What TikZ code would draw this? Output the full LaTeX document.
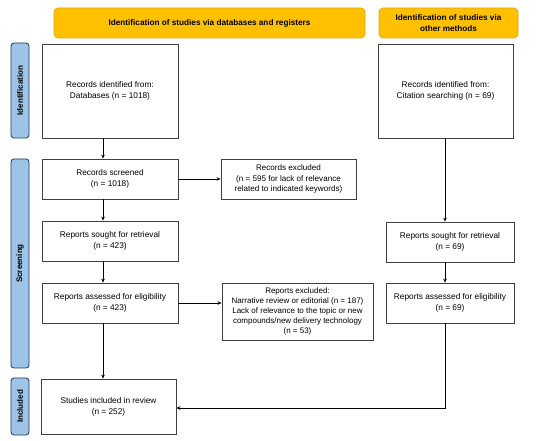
\documentclass[tikz,border=0pt]{standalone}
\usepackage{fontspec}
\setmainfont{Liberation Sans}
\usetikzlibrary{arrows.meta}
\definecolor{hdryellow}{HTML}{FFC000}
\definecolor{hdrborder}{HTML}{E0A800}
\definecolor{sideblue}{HTML}{9DC3E6}
\definecolor{sideborder}{HTML}{1F3864}
\definecolor{boxborder}{HTML}{404040}
\begin{document}
\begin{tikzpicture}[x=1pt,y=-1pt,
  every node/.style={inner sep=1pt},
  fbox/.style={draw=boxborder, line width=0.8pt, fill=white, align=center,
    font=\fontsize{8.3}{10.8}\selectfont},
  hdr/.style={draw=hdrborder, line width=0.6pt, fill=hdryellow, rounded corners=4pt,
    align=center, minimum height=30pt, font=\fontsize{8.2}{10.4}\selectfont\bfseries},
  side/.style={draw=sideborder, line width=0.8pt, fill=sideblue, rounded corners=3pt,
    rotate=90, minimum height=18pt, font=\fontsize{8}{10}\selectfont\bfseries},
  arr/.style={draw=black, line width=0.7pt, -{Stealth[length=4pt,width=3.6pt]}}]
\useasboundingbox (0,0) rectangle (550,441);
\node[hdr, minimum width=311pt] (h1) at (209.5,23) {Identification of studies via databases and registers};
\node[hdr, minimum width=139pt] (h2) at (448.5,23) {Identification of studies via\\other methods};
\node[side, minimum width=95pt] (sId) at (20,90.5) {Identification};
\node[side, minimum width=209pt] (sSc) at (20,263.5) {Screening};
\node[side, minimum width=57pt] (sIn) at (20,406.5) {Included};
\node[fbox, minimum width=136pt, minimum height=94pt] (b1) at (110,91) {Records identified from:\\Databases (n = 1018)};
\node[fbox, minimum width=135pt, minimum height=94pt] (b1r) at (445.5,91) {Records identified from:\\Citation searching (n = 69)};
\node[fbox, minimum width=136pt, minimum height=40pt] (scr) at (110,179) {Records screened\\(n = 1018)};
\node[fbox, minimum width=135pt, minimum height=40pt, font=\fontsize{8.1}{10.2}\selectfont] (exc) at (288.5,179) {Records excluded\\(n = 595 for lack of relevance\\related to indicated keywords)};
\node[fbox, minimum width=136pt, minimum height=40pt] (sou) at (110,241) {Reports sought for retrieval\\(n = 423)};
\node[fbox, minimum width=128pt, minimum height=40pt] (souR) at (450,242) {Reports sought for retrieval\\(n = 69)};
\node[fbox, minimum width=136pt, minimum height=40pt] (ass) at (110,303) {Reports assessed for eligibility\\(n = 423)};
\node[fbox, minimum width=151pt, minimum height=57pt, font=\fontsize{8}{10}\selectfont] (excR) at (297.5,311.5) {Reports excluded:\\Narrative review or editorial (n = 187)\\Lack of relevance to the topic or new\\compounds/new delivery technology\\(n = 53)};
\node[fbox, minimum width=128pt, minimum height=40pt] (assR) at (450,303) {Reports assessed for eligibility\\(n = 69)};
\node[fbox, minimum width=135pt, minimum height=55pt] (inc) at (108.5,406.5) {Studies included in review\\(n = 252)};
\coordinate (cl) at (103,0);
\coordinate (cr) at (445,0);
\coordinate (yin) at (0,408);
\draw[arr] (b1.south -| cl) -- (scr.north -| cl);
\draw[arr] (scr.south -| cl) -- (sou.north -| cl);
\draw[arr] (sou.south -| cl) -- (ass.north -| cl);
\draw[arr] (ass.south -| cl) -- (inc.north -| cl);
\draw[arr] (scr.east) -- (exc.west);
\draw[arr] (ass.east) -- (excR.west |- ass.east);
\draw[arr] (b1r.south -| cr) -- (souR.north -| cr);
\draw[arr] (souR.south -| cr) -- (assR.north -| cr);
\draw[arr] (assR.south -| cr) |- (inc.east |- yin);
\end{tikzpicture}
\end{document}
